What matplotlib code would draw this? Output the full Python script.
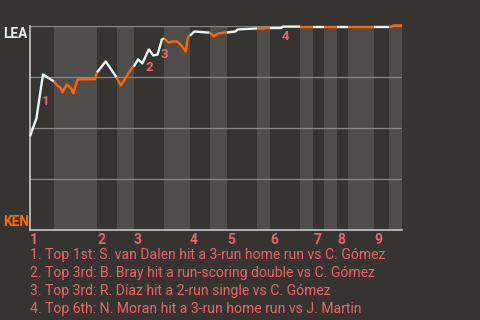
import matplotlib
matplotlib.use("Agg")
import matplotlib.pyplot as plt

# linhas de fronteira das meias-entradas (progresso do jogo)
half_bounds = [0, 11, 31, 40, 48, 62, 74, 83, 91, 105, 111, 125, 131, 136, 142, 147, 159, 166, 172]
innings = ["1", "2", "3", "4", "5", "6", "7", "8", "9"]
inning_starts = [0, 31, 48, 74, 91, 111, 131, 142, 159]

# probabilidade de vitoria do LEA (%)
play_x = [0, 3, 4, 6, 11,
          13, 14, 15, 17, 19, 20, 22, 30, 31,
          35, 40,
          42, 47, 48,
          50, 52, 54, 55, 57, 59, 61, 62,
          64, 66, 68, 70, 72, 73, 74,
          76, 82, 83,
          85, 87, 90, 91,
          95, 96, 105,
          108, 109, 111,
          116, 117, 125,
          131, 136, 142, 147, 159, 166,
          167, 168, 172]
win_pct = [45.8, 54.7, 62.0, 76.2, 72.8,
           70.3, 69.9, 67.4, 71.3, 69.4, 66.9, 73.8, 73.8, 77.2,
           82.6, 74.8,
           70.8, 79.2, 80.1,
           83.6, 81.6, 86.5, 88.5, 85.5, 86.0, 93.4, 93.9,
           91.9, 92.4, 92.4, 90.4, 87.5, 94.4, 95.3,
           97.3, 96.8, 96.8,
           94.9, 96.3, 96.8, 96.8,
           97.3, 98.3, 98.8,
           98.8, 99.0, 99.0,
           99.0, 99.7, 99.7,
           99.7, 99.7, 99.7, 99.7, 99.7, 99.7,
           99.7, 100.3, 100.3]

event_idx = [3, 21, 25, 48]
event_dy = [-31, -18, -19, -13.5]
events = ["1. Top 1st: S. van Dalen hit a 3-run home run vs C. Gómez",
          "2. Top 3rd: B. Bray hit a run-scoring double vs C. Gómez",
          "3. Top 3rd: R. Díaz hit a 2-run single vs C. Gómez",
          "4. Top 6th: N. Moran hit a 3-run home run vs J. Martin"]

bg = "#363431"
band = "#4f4d4b"
white = "#eaf4f6"
orange = "#ff6600"
pink = "#f06468"

plt.rcParams["font.family"] = ["Roboto", "DejaVu Sans"]

fig = plt.figure(figsize=(4.8, 3.2), dpi=100, facecolor=bg)
ax = fig.add_axes([30 / 480, 1 - 229.5 / 320, 372 / 480, 203.5 / 320])
ax.set_facecolor(bg)

for k in range(len(half_bounds) - 1):
    if k % 2 == 1:
        ax.axvspan(half_bounds[k], half_bounds[k + 1], color=band, lw=0, zorder=0)

for g in [25, 50, 75, 100]:
    ax.axhline(g, color="#8a8885", lw=0.9, zorder=1)

# linha colorida por meia-entrada
for k in range(len(half_bounds) - 1):
    xs = [x for x in play_x if half_bounds[k] <= x <= half_bounds[k + 1]]
    ys = [win_pct[play_x.index(x)] for x in xs]
    ax.plot(xs, ys, color=white if k % 2 == 0 else orange, lw=1.7,
            solid_capstyle="butt", zorder=3, clip_on=False)

for n, (i, dy) in enumerate(zip(event_idx, event_dy)):
    ax.annotate(str(n + 1), (play_x[i], win_pct[i]), xytext=(-1, dy),
                textcoords="offset pixels", color=pink, fontsize=9.5,
                fontweight="bold", ha="left", va="baseline", zorder=4)

for lab, x0 in zip(innings, inning_starts):
    ax.annotate(lab, (x0, 0), xycoords=("data", "axes fraction"),
                xytext=(0, -14.5), textcoords="offset pixels", color=pink,
                fontsize=10, fontweight="bold", ha="left", va="baseline")

ax.set_xlim(half_bounds[0], half_bounds[-1])
ax.set_ylim(0, 100)
ax.set_xticks([])
ax.set_yticks([])
for s in ["top", "right"]:
    ax.spines[s].set_visible(False)
for s in ["left", "bottom"]:
    ax.spines[s].set_color("#c8c8c8")
    ax.spines[s].set_linewidth(1.2)

fig.text(3 / 480, 1 - 37.7 / 320, "LEA", color="#e6eef0", fontsize=9.8,
         fontweight="bold", ha="left", va="baseline")
fig.text(3 / 480, 1 - 225.7 / 320, "KEN", color="#ff6a00", fontsize=9.8,
         fontweight="bold", ha="left", va="baseline")

for j, t in enumerate(events):
    fig.text(30 / 480, 1 - (259 + 18 * j) / 320, t, color=pink, fontsize=10.1,
             ha="left", va="baseline")

fig.savefig("out.png", dpi=100, facecolor=bg)
